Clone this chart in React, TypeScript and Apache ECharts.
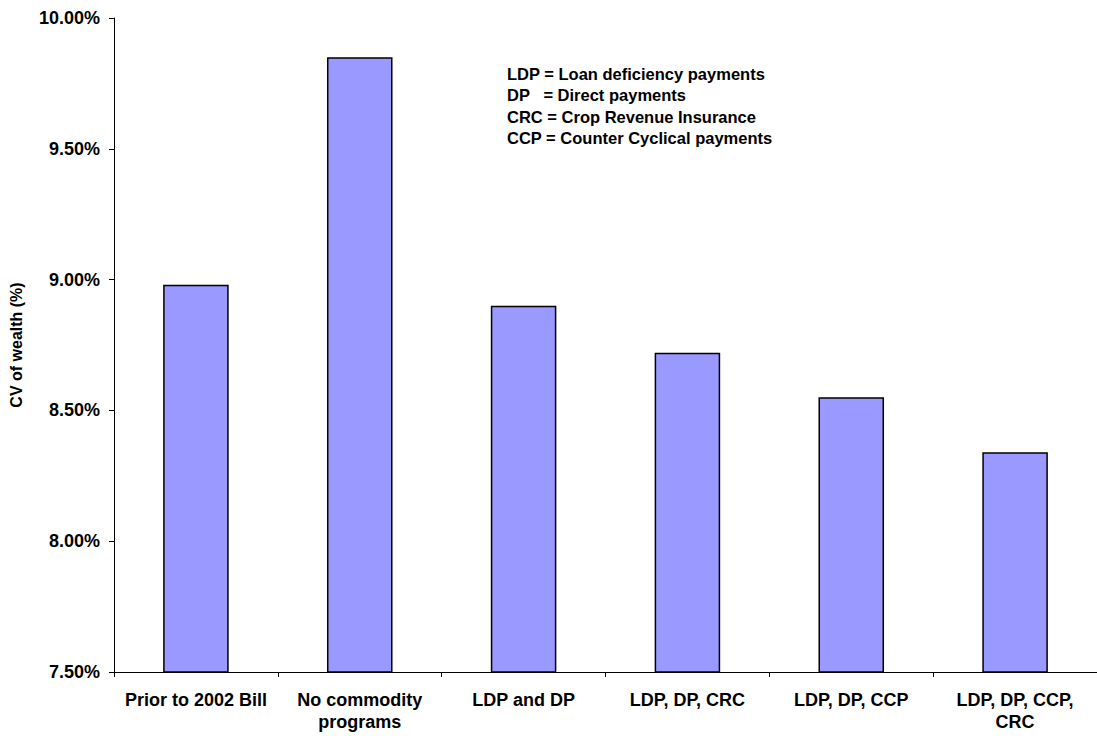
import React, { useEffect, useRef } from "react";
import * as echarts from "echarts";

const categories = [
  "Prior to 2002 Bill",
  "No commodity\nprograms",
  "LDP and DP",
  "LDP, DP, CRC",
  "LDP, DP, CCP",
  "LDP, DP, CCP,\nCRC",
];
const cvValues = [8.98, 9.85, 8.9, 8.72, 8.55, 8.34];
const legendLines = [
  "LDP = Loan deficiency payments",
  "DP   = Direct payments",
  "CRC = Crop Revenue Insurance",
  "CCP = Counter Cyclical payments",
];
const yMin = 7.5;
const yMax = 10;
const yStep = 0.5;

const FONT = "'Liberation Sans', Arial, Helvetica, sans-serif";

export default function App() {
  const ref = useRef<HTMLDivElement>(null);
  useEffect(() => {
    if (!ref.current) return;
    const chart = echarts.init(ref.current, null, { renderer: "svg" });
    chart.setOption({
      animation: false,
      backgroundColor: "#ffffff",
      grid: { left: 110, top: 18, right: -5, bottom: 64, containLabel: false },
      xAxis: {
        type: "category",
        data: categories,
        axisLine: { lineStyle: { color: "#000", width: 1 } },
        axisTick: { show: true, length: 5, lineStyle: { color: "#000" } },
        axisLabel: {
          interval: 0,
          margin: 17,
          color: "#000",
          fontFamily: FONT,
          fontWeight: "bold",
          fontSize: 18,
          lineHeight: 22,
        },
      },
      yAxis: {
        type: "value",
        min: yMin,
        max: yMax,
        interval: yStep,
        name: "CV of wealth (%)",
        nameLocation: "middle",
        nameGap: 90,
        nameTextStyle: {
          color: "#000",
          fontFamily: FONT,
          fontWeight: "bold",
          fontSize: 16,
        },
        axisLine: { show: true, lineStyle: { color: "#000", width: 1 } },
        axisTick: { show: true, length: 5, lineStyle: { color: "#000" } },
        splitLine: { show: false },
        axisLabel: {
          margin: 14,
          color: "#000",
          fontFamily: FONT,
          fontWeight: "bold",
          fontSize: 18,
          formatter: (v: number) => v.toFixed(2) + "%",
        },
      },
      series: [
        {
          type: "bar",
          data: cvValues,
          barWidth: "40%",
          itemStyle: { color: "#9999FF", borderColor: "#000", borderWidth: 1.5 },
        },
      ],
      graphic: legendLines.map((t, i) => ({
        type: "text",
        left: 507,
        top: 65 + i * 21.5,
        style: {
          text: t,
          fill: "#000",
          font: `bold 16.5px ${FONT}`,
        },
      })),
    });
    return () => chart.dispose();
  }, []);
  return (
    <div
      ref={ref}
      style={{ position: "fixed", left: 0, top: 0, width: 1097, height: 736, background: "#fff" }}
    />
  );
}
